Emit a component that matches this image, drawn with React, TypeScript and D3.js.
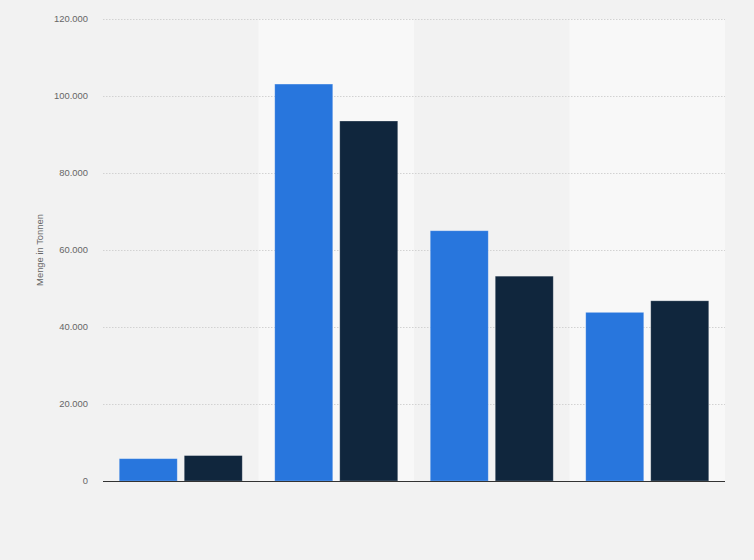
import React from "react";
import * as d3 from "d3";

const categories = ["Kategorie 1", "Kategorie 2", "Kategorie 3", "Kategorie 4"];
const seriesKeys = ["Serie 1", "Serie 2"];
const series1 = [5800, 103100, 65000, 43800];
const series2 = [6600, 93500, 53200, 46800];
const yTicks = [0, 20000, 40000, 60000, 80000, 100000, 120000];
const colors = ["#2876dd", "#10263d"];

const width = 754, height = 560;
const left = 103, right = 725, top = 19, bottom = 481;

const de = d3.formatLocale({ decimal: ",", thousands: ".", grouping: [3], currency: ["", " €"] });
const fmt = de.format(",");

export default function App() {
  const x = d3.scaleBand().domain(categories).range([left, right]).padding(0);
  const x1 = d3.scaleBand().domain(seriesKeys).range([0, x.bandwidth()])
    .paddingInner(7 / 65).paddingOuter(0.25);
  const y = d3.scaleLinear().domain([0, 120000]).range([bottom, top]);
  const values = [series1, series2];

  return (
    <div style={{ position: "absolute", left: 0, top: 0 }}>
      <svg width={width} height={height} style={{ display: "block", background: "#f2f2f2" }}
        fontFamily="'Liberation Sans', Arial, sans-serif">
        {categories.map((c, i) => i % 2 === 1 && (
          <rect key={c} x={x(c)} y={top} width={x.bandwidth()} height={bottom - top} fill="#f8f8f8" />
        ))}
        {yTicks.map(t => (
          <g key={t}>
            {t > 0 && (
              <line x1={left} x2={right} y1={y(t) + 0.5} y2={y(t) + 0.5}
                stroke="#d2d2d2" strokeDasharray="1.5 1.5" />
            )}
            <text x={88} y={y(t)} dy="0.35em" textAnchor="end" fontSize={9.4} fill="#666">
              {fmt(t)}
            </text>
          </g>
        ))}
        {categories.map((c, i) => (
          <g key={c} transform={`translate(${x(c)},0)`}>
            {seriesKeys.map((k, j) => (
              <rect key={k} x={x1(k)} y={y(values[j][i])} width={x1.bandwidth()}
                height={bottom - y(values[j][i])} fill={colors[j]}
                stroke="rgba(255,255,255,0.3)" strokeWidth={0.8} />
            ))}
          </g>
        ))}
        <line x1={left} x2={right} y1={bottom + 0.5} y2={bottom + 0.5} stroke="#333" strokeWidth={1.2} />
        <text transform={`translate(43,${(top + bottom) / 2}) rotate(-90)`} textAnchor="middle"
          fontSize={9.4} fill="#666">Menge in Tonnen</text>
      </svg>
    </div>
  );
}
